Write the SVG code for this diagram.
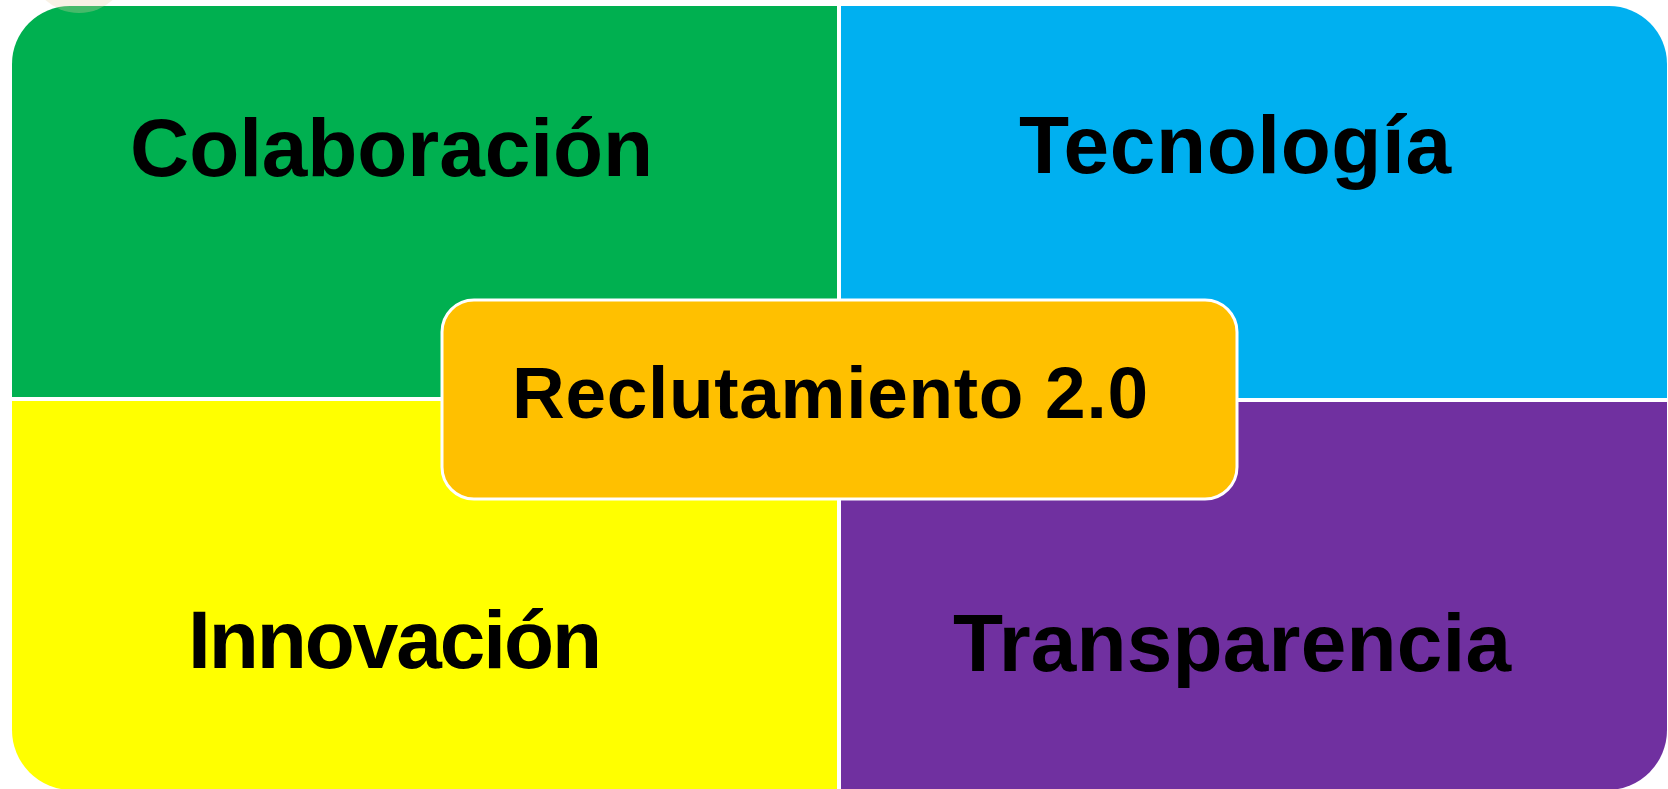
<svg xmlns="http://www.w3.org/2000/svg" width="1668" height="789" viewBox="0 0 1668 789">
<style>
.lbl{font-family:"Liberation Sans",Arial,Helvetica,sans-serif;font-weight:bold;fill:#000;}
.big{font-size:82px;}
.mid{font-size:73px;}
</style>
<rect width="1668" height="789" fill="#ffffff"/>
<g id="colaboracion">
<path d="M12,64 A58,58 0 0 1 70,6 L837,6 L837,397 L12,397 Z" fill="#00B050"/>
<text class="lbl big" x="130" y="176" textLength="523" lengthAdjust="spacing">Colaboración</text>
</g>
<g id="tecnologia">
<path d="M841,6 L1609,6 A58,58 0 0 1 1667,64 L1667,398 L841,398 Z" fill="#00B0F0"/>
<text class="lbl big" x="1019" y="173" textLength="432" lengthAdjust="spacing">Tecnología</text>
</g>
<g id="innovacion">
<path d="M12,401 L837,401 L837,790 L72,790 A60,60 0 0 1 12,730 Z" fill="#FFFF00"/>
<text class="lbl big" x="188" y="668" textLength="414" lengthAdjust="spacing">Innovación</text>
</g>
<g id="transparencia">
<path d="M841,402 L1667,402 L1667,730 A60,60 0 0 1 1607,790 L841,790 Z" fill="#7030A0"/>
<text class="lbl big" x="953" y="671" textLength="558" lengthAdjust="spacing">Transparencia</text>
</g>
<circle cx="79" cy="-37" r="50" fill="#e8d0a8" opacity="0.3"/>
<g id="connectors"></g>
<g id="reclutamiento">
<rect x="442" y="300" width="795" height="199" rx="32" ry="32" fill="#FFC000" stroke="#ffffff" stroke-width="3"/>
<text class="lbl mid" x="512" y="418" textLength="636" lengthAdjust="spacing">Reclutamiento 2.0</text>
</g>
</svg>
